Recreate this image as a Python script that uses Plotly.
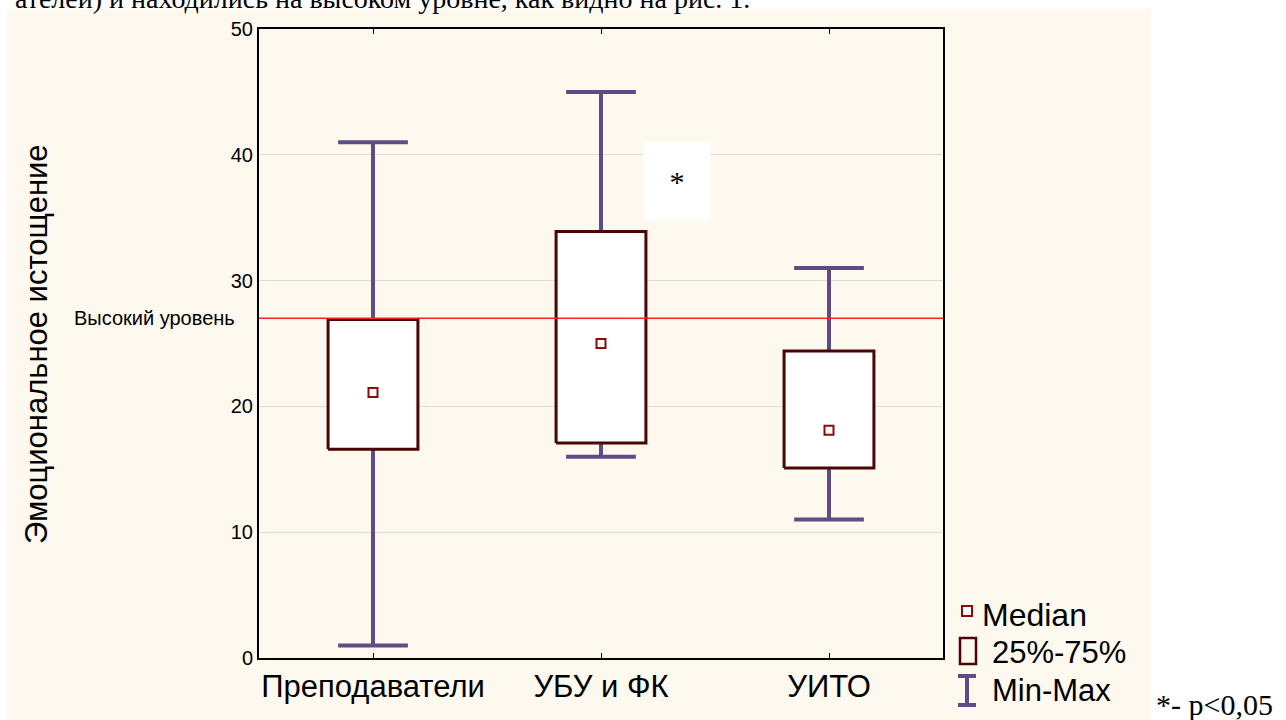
import plotly.graph_objects as go

categories = ["Преподаватели", "УБУ и ФК", "УИТО"]
mins = [1, 16, 11]
q1 = [16.6, 17.1, 15.1]
medians = [21.1, 25.0, 18.1]
q3 = [26.9, 33.9, 24.4]
maxs = [41.0, 45.0, 31.0]
high_level = 27.0
y_ticks = [0, 10, 20, 30, 40, 50]

BOX_COL = "#4a0606"
WHISK_COL = "#5f4b85"
MED_COL = "#8b0a0a"
CREAM = "#fef9ee"
SANS = "Arial, Liberation Sans"
SERIF = "Liberation Serif, Times New Roman"

L, R, T, B = 259, 943, 29, 658
W, H = 1286, 720


def px(x):
    return (x - L) / (R - L)


def py(y):
    return (B - y) / (B - T)


fig = go.Figure()
hw = 0.197
cw = 0.153
for i in range(len(categories)):
    fig.add_trace(go.Scatter(
        x=[i, i, None, i, i, None, i - cw, i + cw, None, i - cw, i + cw],
        y=[mins[i], q1[i], None, q3[i], maxs[i], None, mins[i], mins[i], None, maxs[i], maxs[i]],
        mode="lines", line=dict(color=WHISK_COL, width=4), showlegend=False, hoverinfo="skip"))
    fig.add_trace(go.Scatter(
        x=[i - hw, i + hw, i + hw, i - hw, i - hw],
        y=[q1[i], q1[i], q3[i], q3[i], q1[i]],
        mode="lines", fill="toself", fillcolor="white",
        line=dict(color=BOX_COL, width=3), showlegend=False, hoverinfo="skip"))

fig.add_trace(go.Scatter(
    x=list(range(len(categories))), y=medians, mode="markers",
    marker=dict(symbol="square", size=9, color="white", line=dict(color=MED_COL, width=2)),
    showlegend=False, hoverinfo="skip"))

shapes = [
    dict(type="rect", xref="paper", yref="paper", layer="below",
         x0=px(7), x1=px(1151), y0=py(720), y1=py(9),
         fillcolor=CREAM, line=dict(width=0)),
    dict(type="line", xref="paper", yref="y", x0=0, x1=1, y0=high_level, y1=high_level,
         line=dict(color="#ff2020", width=1.5)),
    dict(type="rect", xref="paper", yref="paper", x0=px(962), x1=px(972), y0=py(616), y1=py(606),
         fillcolor="white", line=dict(color=MED_COL, width=2)),
    dict(type="rect", xref="paper", yref="paper", x0=px(960), x1=px(976), y0=py(664), y1=py(638),
         fillcolor=CREAM, line=dict(color=BOX_COL, width=2.5)),
    dict(type="line", xref="paper", yref="paper", x0=px(967), x1=px(967), y0=py(675), y1=py(705),
         line=dict(color=WHISK_COL, width=4)),
    dict(type="line", xref="paper", yref="paper", x0=px(958), x1=px(976), y0=py(676), y1=py(676),
         line=dict(color=WHISK_COL, width=4)),
    dict(type="line", xref="paper", yref="paper", x0=px(958), x1=px(976), y0=py(705), y1=py(705),
         line=dict(color=WHISK_COL, width=4)),
]

annotations = [
    dict(text="Эмоциональное истощение", xref="paper", yref="paper", x=px(36), y=py(344),
         textangle=-90, xanchor="center", yanchor="middle", showarrow=False,
         font=dict(family=SANS, size=31, color="black")),
    dict(text="Высокий уровень", xref="paper", yref="y", x=px(237), y=high_level,
         xanchor="right", yanchor="middle", showarrow=False,
         font=dict(family=SANS, size=20, color="black")),
    dict(text="*", xref="x", yref="y", x=1.335, y=37.9, showarrow=False,
         bgcolor="white", width=64, height=76, xanchor="center", yanchor="middle",
         font=dict(family=SERIF, size=30, color="black")),
    dict(text="Median", xref="paper", yref="paper", x=px(980), y=py(615), xanchor="left",
         yanchor="middle", showarrow=False, font=dict(family=SANS, size=32, color="black")),
    dict(text="25%-75%", xref="paper", yref="paper", x=px(990), y=py(652), xanchor="left",
         yanchor="middle", showarrow=False, font=dict(family=SANS, size=31, color="black")),
    dict(text="Min-Max", xref="paper", yref="paper", x=px(990), y=py(690), xanchor="left",
         yanchor="middle", showarrow=False, font=dict(family=SANS, size=31, color="black")),
    dict(text="*- p&lt;0,05", xref="paper", yref="paper", x=px(1154), y=py(704), xanchor="left",
         yanchor="middle", showarrow=False, font=dict(family=SERIF, size=30, color="black")),
    dict(text="ателей) и находились на высоком уровне, как видно на рис. 1.", xref="paper", yref="paper",
         x=px(752), y=py(16), xanchor="right", yanchor="bottom", showarrow=False,
         font=dict(family=SERIF, size=28, color="black")),
]

fig.update_layout(
    width=W, height=H,
    margin=dict(l=L, r=W - R, t=T, b=H - B),
    paper_bgcolor="white", plot_bgcolor="white",
    shapes=shapes, annotations=annotations, showlegend=False,
    xaxis=dict(range=[-0.5, 2.5], tickvals=list(range(len(categories))), ticktext=categories,
               showgrid=False, zeroline=False, showline=True, linecolor="black", linewidth=2,
               mirror="ticks", ticks="inside", ticklen=5, tickcolor="black",
               tickfont=dict(family=SANS, size=31, color="black")),
    yaxis=dict(range=[0, 50], tickvals=y_ticks, showgrid=True, gridcolor="#dcdcdc", gridwidth=1,
               zeroline=False, showline=True, linecolor="black", linewidth=2, mirror=True,
               ticks="", tickfont=dict(family=SANS, size=20, color="black")),
)

fig.write_html("out.html")
